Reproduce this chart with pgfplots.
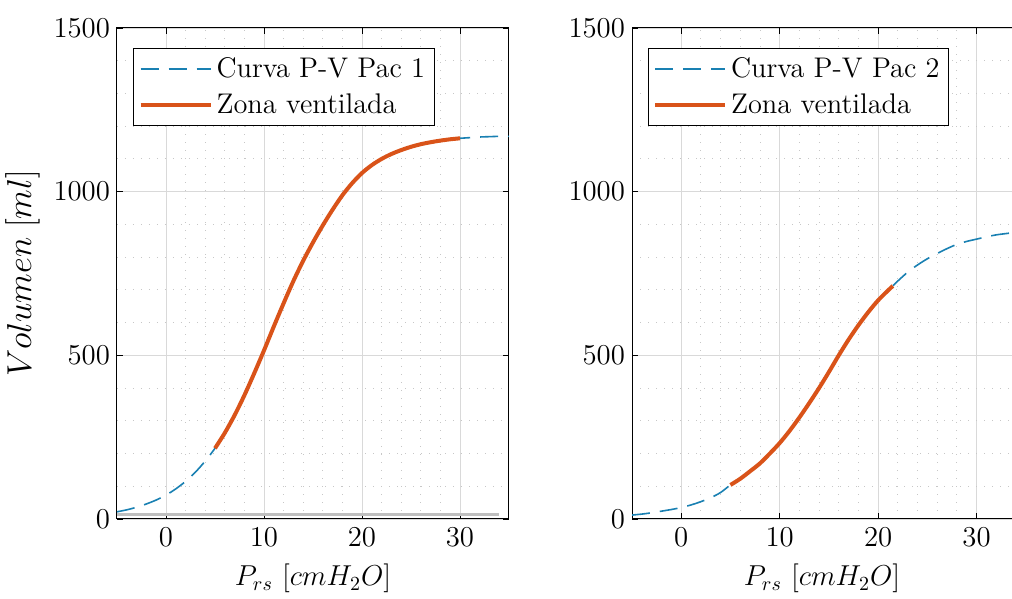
\documentclass[border=0pt]{standalone}
\usepackage{pgfplots}
\pgfplotsset{compat=1.18}
\definecolor{mblue}{rgb}{0.1,0.5,0.7}
\definecolor{morange}{rgb}{0.851,0.325,0.098}
\pgfplotstableread{
x y
-5 22
-4 28
-3 36
-2 46
-1 58
0 73
1 92
2 115
3 143
4 177
5 216
6 263
7 317
8 378
9 445
10 515
11 588
12 659
13 727
14 789
15 845
16 897
17 945
18 989
19 1026
20 1057
21 1081
22 1100
23 1115
24 1127
25 1137
26 1145
27 1151
28 1156
29 1160
30 1163
31 1165
32 1167
33 1168
34 1169
35 1169
}\pacA
\pgfplotstableread{
x y
5 216
6 263
7 317
8 378
9 445
10 515
11 588
12 659
13 727
14 789
15 845
16 897
17 945
18 989
19 1026
20 1057
21 1081
22 1100
23 1115
24 1127
25 1137
26 1145
27 1151
28 1156
29 1160
30 1163
}\zonaA
\pgfplotstableread{
x y
-5 12
-4 15
-3 19
-2 24
-1 29
0 35
1 43
2 53
3 65
4 81
5 104
6 123
7 146
8 170
9 200
10 232
11 269
12 310
13 354
14 400
15 449
16 500
17 548
18 592
19 632
20 668
21 698
22 727
23 754
24 776
25 795
26 811
27 826
28 839
29 848
30 855
31 862
32 868
33 872
34 876
}\pacB
\pgfplotstableread{
x y
5 104
6 123
7 146
8 170
9 200
10 232
11 269
12 310
13 354
14 400
15 449
16 500
17 548
18 592
19 632
20 668
21 698
21.5 712
}\zonaB
\begin{document}
\begin{tikzpicture}
\pgfplotsset{
  common/.style={
    scale only axis, height=245.5pt,
    xmin=-5, ymin=0, ymax=1500,
    xtick={0,10,20,30}, ytick={0,500,1000,1500},
    minor x tick num=4, minor y tick num=4,
    grid=both,
    major grid style={draw=black!15, line width=0.4pt},
    minor grid style={draw=black!22, line width=0.45pt, dash pattern=on 0.5pt off 3.5pt},
    minor tick length=0pt, major tick length=3pt,
    tick align=inside,
    tick style={black, line width=0.4pt},
    axis line style={black, line width=0.5pt},
    /pgf/number format/1000 sep={},
    tick label style={font=\fontsize{13.5}{16}\selectfont},
    xticklabel style={yshift=-1pt},
    xlabel style={font=\fontsize{14}{17}\selectfont, yshift=-2pt},
    ylabel style={font=\fontsize{16}{19}\selectfont},
    xlabel={$P_{rs}\ [cmH_2O]$},
    legend cell align=left,
    legend style={font=\fontsize{14.2}{17.5}\selectfont,
      at={(axis description cs:0.041,0.959)}, anchor=north west,
      draw=black, line width=0.5pt, inner sep=2.5pt, row sep=2.5pt,
      nodes={inner sep=2pt}},
    legend image code/.code={\draw[##1] (0pt,0pt) -- (35pt,0pt);},
  }
}
\begin{axis}[common, width=196pt, xmax=35, ylabel={$Volumen\ [ml]$}]
\addplot[black!25, line width=1.5pt, forget plot] coordinates {(-5,15) (34,15)};
\addplot[mblue, line width=0.8pt, dash pattern=on 9pt off 5pt, smooth] table[x=x,y=y] {\pacA};
\addlegendentry{Curva P-V Pac 1}
\addplot[morange, line width=2pt, smooth] table[x=x,y=y] {\zonaA};
\addlegendentry{Zona ventilada}
\end{axis}
\begin{axis}[common, width=190pt, at={(257.5pt,0pt)}, xmax=33.6,
  axis x line*=box, axis y line*=left]
\addplot[mblue, line width=0.8pt, dash pattern=on 9pt off 5pt, smooth] table[x=x,y=y] {\pacB};
\addlegendentry{Curva P-V Pac 2}
\addplot[morange, line width=2pt, smooth] table[x=x,y=y] {\zonaB};
\addlegendentry{Zona ventilada}
\end{axis}
\pgfresetboundingbox
\path (-58.5pt,-40pt) rectangle (447.5pt,259.5pt);
\end{tikzpicture}
\end{document}
